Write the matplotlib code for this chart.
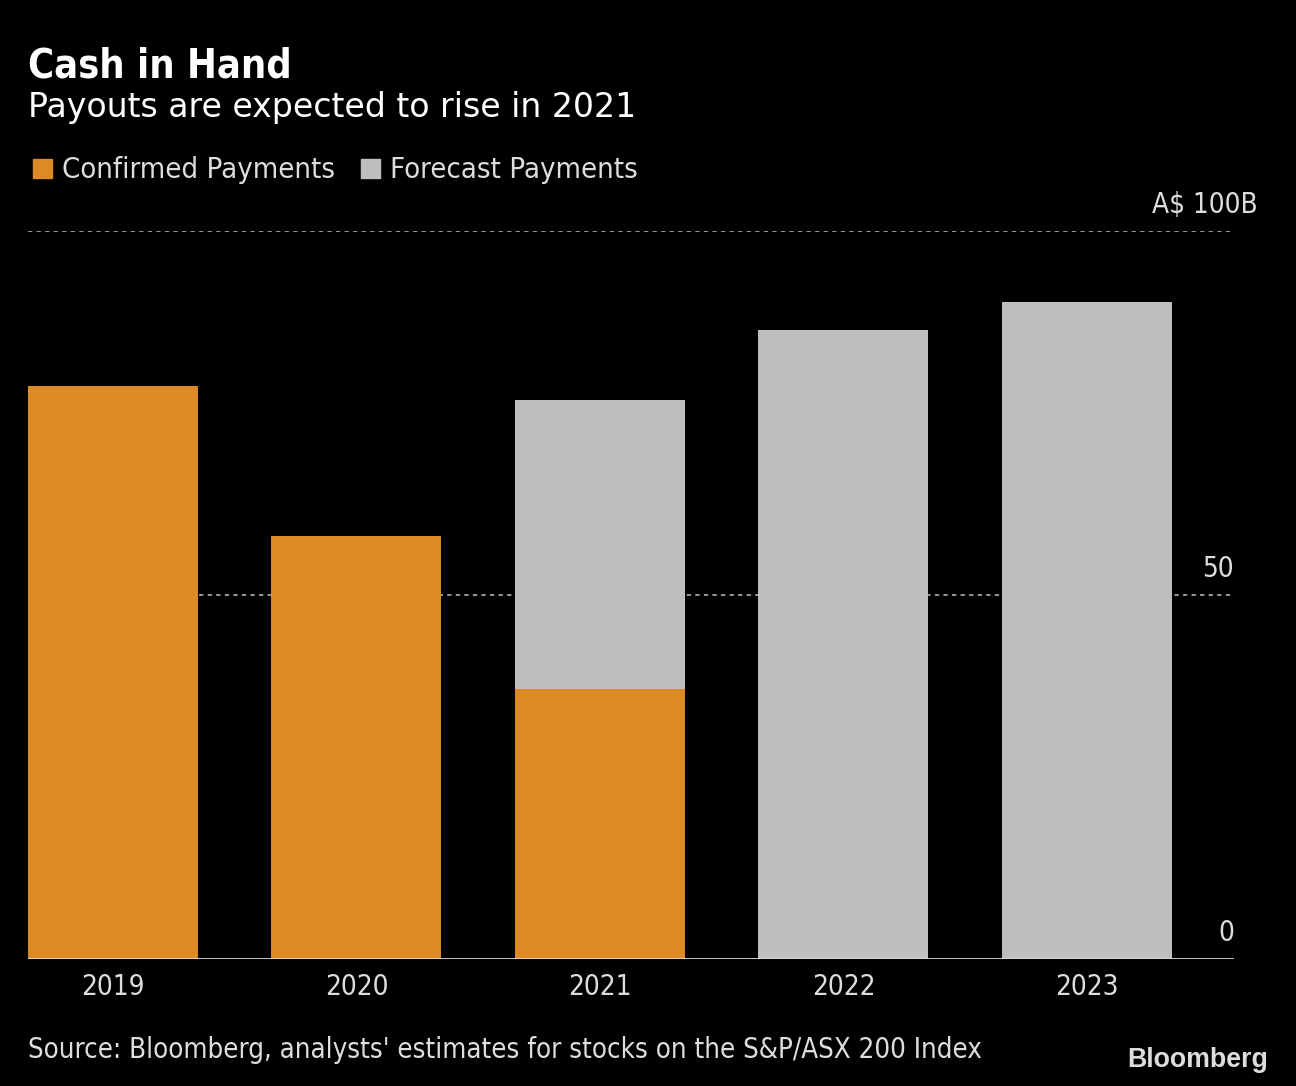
import matplotlib
matplotlib.use("Agg")
import matplotlib.pyplot as plt
import matplotlib.transforms as mtransforms
from matplotlib.patches import Rectangle

years = ["2019", "2020", "2021", "2022", "2023"]
confirmed = [78.7, 58.1, 37.1, 0, 0]
forecast = [0, 0, 39.7, 86.4, 90.2]
ytick_vals = [0, 50, 100]
ytick_labels = ["0", "50", "A$ 100B"]

ORANGE = "#DB8A25"
GRAY = "#BEBEBE"
TXT = "#DDDDDD"
FONT = "DejaVu Sans"
STRETCH = "condensed"

fig = plt.figure(figsize=(12.96, 10.86), dpi=100, facecolor="black")
ax = fig.add_axes([28/1296, 1-959/1086, (1234-28)/1296, (959-231)/1086])
ax.set_facecolor("black")

x = list(range(len(years)))
ax.bar(x, confirmed, width=0.698, color=ORANGE, zorder=3)
ax.bar(x, forecast, width=0.698, bottom=confirmed, color=GRAY, zorder=3)

ax.set_xlim(-0.349, 4.604)
ax.set_ylim(0, 100)
for s in ax.spines.values():
    s.set_visible(False)
ax.set_yticks([])
ax.set_xticks(x)
ax.set_xticklabels(years, fontsize=20, color=TXT, family=FONT, stretch=STRETCH)
ax.tick_params(axis="x", length=0, pad=10)

for v in ytick_vals[1:]:
    ax.axhline(v, color="#999999", lw=1.4, ls=(0, (2.2, 2.2)), zorder=1)
ax.axhline(0, color="#DDDDDD", lw=2, zorder=4)

trans = mtransforms.blended_transform_factory(ax.transAxes, ax.transData)
for v, lab in zip(ytick_vals, ytick_labels):
    xr = 1.0 + (24/1206 if v == 100 else 0)
    ax.text(xr, v + 1.6, lab, transform=trans, ha="right", va="bottom",
            fontsize=20, color=TXT, family=FONT, stretch=STRETCH)

fig.text(28/1296, 1-78/1086, "Cash in Hand", fontsize=28.5, fontweight="bold",
         color="white", family=FONT, stretch=STRETCH)
fig.text(28/1296, 1-117/1086, "Payouts are expected to rise in 2021", fontsize=23.9,
         color="white", family=FONT)

# legend
fig.patches.append(Rectangle((33/1296, 1-178/1086), 19/1296, 19/1086,
                             transform=fig.transFigure, color=ORANGE))
fig.text(62/1296, 1-178/1086, "Confirmed Payments", fontsize=21, color=TXT,
         family=FONT, stretch=STRETCH)
fig.patches.append(Rectangle((361/1296, 1-178/1086), 19/1296, 19/1086,
                             transform=fig.transFigure, color=GRAY))
fig.text(390/1296, 1-178/1086, "Forecast Payments", fontsize=21, color=TXT,
         family=FONT, stretch=STRETCH)

fig.text(28/1296, 1-1058/1086,
         "Source: Bloomberg, analysts' estimates for stocks on the S&P/ASX 200 Index",
         fontsize=19.8, color=TXT, family=FONT, stretch=STRETCH)
fig.text(1268/1296, 1-1067/1086, "Bloomberg", fontsize=19.3, fontweight="bold",
         color="#DDDDDD", ha="right", family="Liberation Sans")

fig.savefig("out.png", dpi=100, facecolor="black")
